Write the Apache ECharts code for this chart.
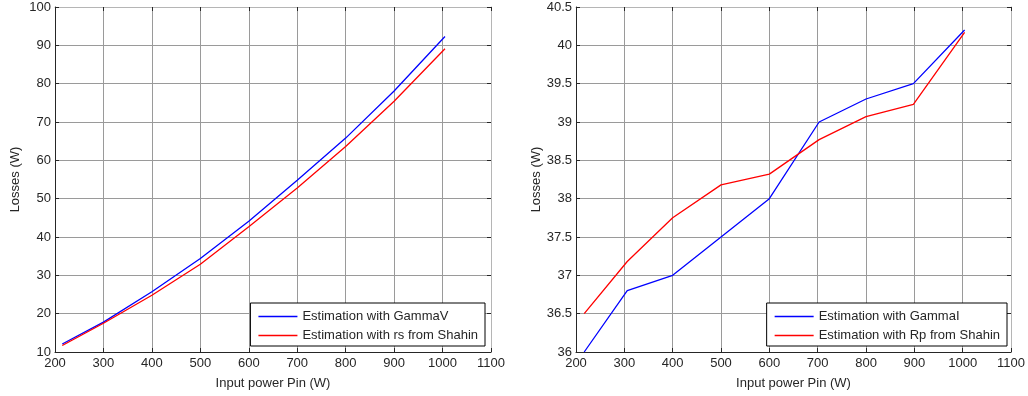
<!DOCTYPE html>
<html><head><meta charset="utf-8">
<script src="https://cdn.jsdelivr.net/npm/echarts@6/dist/echarts.min.js"></script>
<style>html,body{margin:0;padding:0;background:#fff}#c{width:1028px;height:396px}</style>
</head><body><div id="c"></div>
<script>
const xLeft = [215, 300, 400, 500, 600, 700, 800, 900, 1005];
const gammaV = [12.1, 17.8, 25.7, 34.4, 44.1, 54.8, 65.8, 78.1, 92.3];
const rsShahin = [11.7, 17.5, 24.8, 32.9, 42.7, 52.8, 63.6, 75.4, 89.1];
const xRight = [217, 306, 400, 500, 600, 703, 800, 898, 1004];
const gammaI = [36.0, 36.8, 37.0, 37.5, 38.0, 39.0, 39.3, 39.5, 40.2];
const rpShahin = [36.5, 37.18, 37.75, 38.18, 38.32, 38.77, 39.07, 39.23, 40.17];
const xTicks = [200, 1100, 100];
const namesL = ['Estimation with GammaV', 'Estimation with rs from Shahin'];
const namesR = ['Estimation with GammaI', 'Estimation with Rp from Shahin'];

const FONT = '"Liberation Sans", Arial, sans-serif';
const txt = {color: '#262626', fontFamily: FONT, fontSize: 13};
const pair = (xs, ys) => xs.map((x, i) => [x, ys[i]]);

function xMain(gi) {
  return {type: 'value', gridIndex: gi, min: xTicks[0], max: xTicks[1], interval: xTicks[2],
    name: 'Input power Pin (W)', nameLocation: 'middle', nameGap: 25, nameTextStyle: txt,
    axisLine: {onZero: false, lineStyle: {color: '#262626', width: 1}},
    axisTick: {inside: true, length: 4, lineStyle: {color: '#262626'}},
    axisLabel: Object.assign({margin: 5, formatter: v => String(v)}, txt),
    splitLine: {show: true, lineStyle: {color: '#9a9a9a', width: 1}}};
}
function xTop(gi) {
  return {type: 'value', gridIndex: gi, position: 'top', min: xTicks[0], max: xTicks[1], interval: xTicks[2],
    axisLine: {lineStyle: {color: '#b5b5b5'}}, axisTick: {inside: true, length: 4, lineStyle: {color: '#262626'}},
    axisLabel: {show: false}, splitLine: {show: false}};
}
function yMain(gi, min, max, step, fmt) {
  return {type: 'value', gridIndex: gi, min: min, max: max, interval: step,
    name: 'Losses (W)', nameLocation: 'middle', nameGap: 33, nameTextStyle: txt,
    axisLine: {show: true, onZero: false, lineStyle: {color: '#262626'}},
    axisTick: {show: true, inside: true, length: 4, lineStyle: {color: '#262626'}},
    axisLabel: Object.assign({margin: 4, formatter: fmt}, txt),
    splitLine: {show: true, lineStyle: {color: '#9a9a9a', width: 1}}};
}
function yRight(gi, min, max, step) {
  return {type: 'value', gridIndex: gi, position: 'right', min: min, max: max, interval: step,
    axisLine: {show: true, onZero: false, lineStyle: {color: '#b5b5b5'}},
    axisTick: {show: true, inside: true, length: 4, lineStyle: {color: '#262626'}},
    axisLabel: {show: false}, splitLine: {show: false}};
}
const LINE_ICON = 'path://M0,0 M40,12 M0,5.2 L40,5.2 L40,6.8 L0,6.8 Z';
function legend(names, right) {
  return {orient: 'vertical', right: right, top: 303, data: names, icon: LINE_ICON,
    backgroundColor: '#fff', borderColor: '#000', borderWidth: 1,
    padding: [7, 7, 4, 8], itemGap: 6, itemWidth: 39, itemHeight: 12,
    textStyle: txt};
}
const ser = (name, xi, yi, data, color) => ({name: name, type: 'line', xAxisIndex: xi, yAxisIndex: yi,
  data: data, showSymbol: false, symbol: 'none', lineStyle: {color: color, width: 1.3}, itemStyle: {color: color},
  animation: false, z: 3});

const chart = echarts.init(document.getElementById('c'), null, {renderer: 'canvas'});
chart.setOption({
  animation: false,
  grid: [{left: 55, right: 537, top: 7, bottom: 44}, {left: 576, right: 15, top: 7, bottom: 44}],
  xAxis: [xMain(0), xTop(0), xMain(1), xTop(1)],
  yAxis: [yMain(0, 10, 100, 10, v => String(v)), yRight(0, 10, 100, 10),
          yMain(1, 36, 40.5, 0.5, v => String(+v.toFixed(1))), yRight(1, 36, 40.5, 0.5)],
  legend: [legend(namesL, 543), legend(namesR, 21)],
  series: [
    ser(namesL[0], 0, 0, pair(xLeft, gammaV), '#0000ff'),
    ser(namesL[1], 0, 0, pair(xLeft, rsShahin), '#ff0000'),
    ser(namesR[0], 2, 2, pair(xRight, gammaI), '#0000ff'),
    ser(namesR[1], 2, 2, pair(xRight, rpShahin), '#ff0000')
  ]
});
</script></body></html>
